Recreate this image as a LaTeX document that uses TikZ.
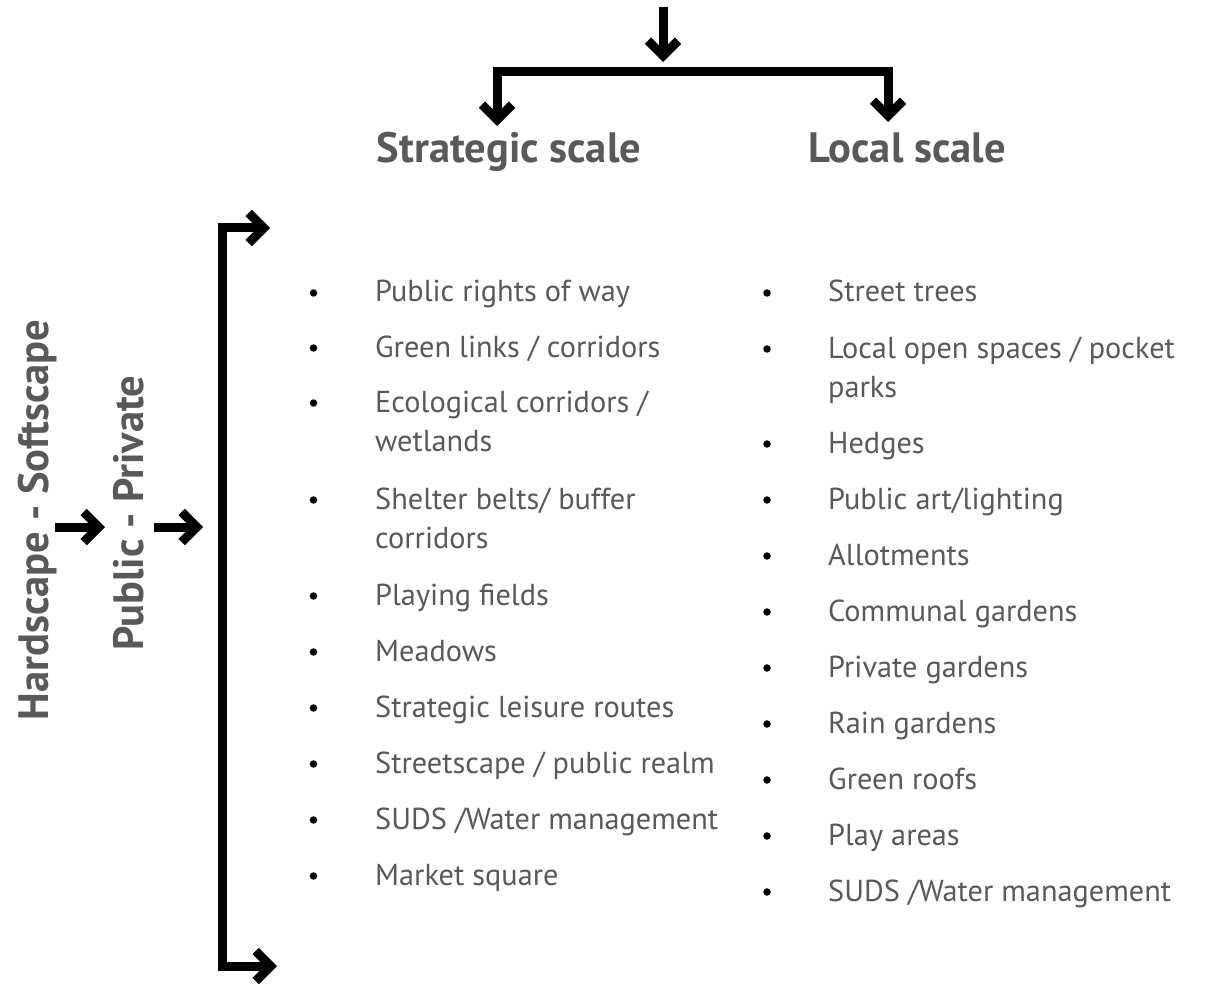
\documentclass[tikz,border=0pt]{standalone}
\usepackage{fontspec}
\setmainfont{PT Sans}
\usetikzlibrary{arrows.meta}
\definecolor{txtgray}{HTML}{58595B}
\begin{document}
\begin{tikzpicture}[x=1pt,y=-1pt,
  arr/.style={line width=9pt, line join=miter, -{Straight Barb[length=15pt,width=30pt]}},
  head/.style={font=\fontsize{42.5}{46}\selectfont\bfseries, text=txtgray, inner sep=0pt},
  item/.style={font=\fontsize{30.3}{39}\selectfont, text=txtgray, inner sep=0pt, align=left, anchor=base west},
  bul/.style={circle, fill=black, inner sep=0pt, minimum size=7.5pt}]
\fill[white] (0,0) rectangle (1205,984);
\useasboundingbox (0,0) rectangle (1205,984);

% top arrows
\coordinate (top) at (663,7);
\coordinate (topEnd) at (663,62);
\coordinate (bar) at (663,72);
\coordinate (sEnd) at (497,126);
\coordinate (lEnd) at (888,122);
\draw[arr] (top) -- (topEnd);
\draw[arr] (bar) -| (sEnd);
\draw[arr] (bar) -| (lEnd);

\node[head, anchor=base] (strat) at (509,163) {Strategic scale};
\node[head, anchor=base] (local) at (907,163) {Local scale};

% left side
\node[head, rotate=90, anchor=base] (hard) at (48,520) {Hardscape - Softscape};
\node[head, rotate=90, anchor=base] (pub) at (143,513) {Public - Private};
\coordinate (h1s) at (55,527);
\coordinate (h1e) at (105,527);
\coordinate (p1s) at (154,527);
\coordinate (p1e) at (203,527);
\draw[arr] (h1s) -- (h1e);
\draw[arr] (p1s) -- (p1e);

\coordinate (lmid) at (222,527);
\coordinate (ltop) at (270,228);
\coordinate (lbot) at (277,966);
\draw[arr] (lmid) |- (ltop);
\draw[arr] (lmid) |- (lbot);

% strategic list: first-line baseline / last-line baseline / text
\foreach \y/\z/\t [count=\i] in {302/302/{Public rights of way},357/357/{Green links / corridors},412/451/{Ecological corridors /\\wetlands},509/548/{Shelter belts/ buffer\\corridors},605/605/{Playing fields},661/661/{Meadows},717/717/{Strategic leisure routes},773/773/{Streetscape / public realm},829/829/{SUDS /Water management},885/885/{Market square}}{
  \node[bul] (sb\i) at (313.5,\y-9) {};
  \node[item] (s\i) at (375,\z) {\t};
}
% local list
\foreach \y/\z/\t [count=\i] in {302/302/{Street trees},358/397/{Local open spaces / pocket\\parks},453/453/{Hedges},509/509/{Public art/lighting},565/565/{Allotments},621/621/{Communal gardens},677/677/{Private gardens},733/733/{Rain gardens},789/789/{Green roofs},845/845/{Play areas},901/901/{SUDS /Water management}}{
  \node[bul] (lb\i) at (767,\y-9) {};
  \node[item] (l\i) at (828,\z) {\t};
}
\end{tikzpicture}
\end{document}
